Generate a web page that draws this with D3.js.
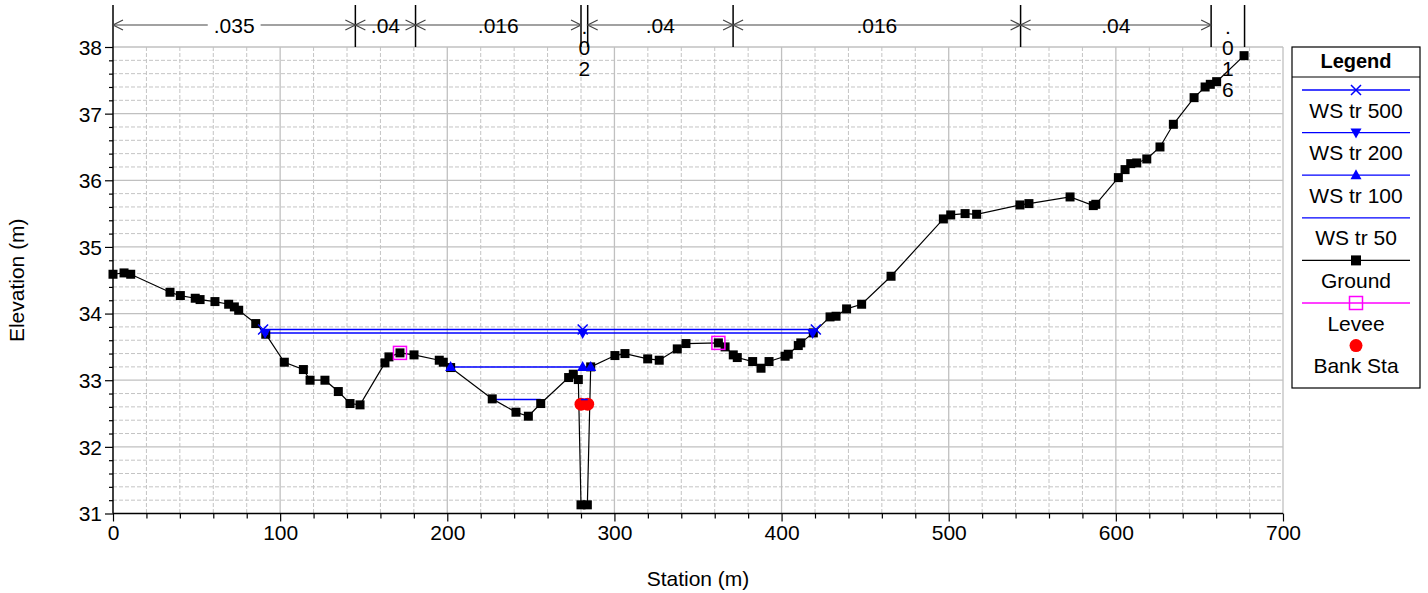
<!DOCTYPE html>
<html><head><meta charset="utf-8">
<script src="https://cdn.jsdelivr.net/npm/d3@7/dist/d3.min.js"></script>
<style>
html,body{margin:0;padding:0;background:#fff;}
svg{display:block;font-family:"Liberation Sans",Arial,sans-serif;}
</style></head><body>
<svg id="chart" width="1428" height="593"></svg>
<script>
// ---------- DATA ----------
const groundSta = [0,6.6,10.6,34.1,40.3,49.2,52.1,61.0,69.2,72.6,75.2,85.4,91.4,102.5,113.9,117.9,126.8,134.8,141.8,147.8,162.7,165.1,171.7,180.1,195.2,197.6,202.0,226.9,241.1,248.5,255.9,272.6,275.4,278.4,280.0,283.8,285.8,300.3,306.3,319.9,326.8,337.6,342.8,362.2,366.2,371.1,373.5,382.7,387.7,392.5,402.1,404.0,410.0,411.5,419.0,429.0,432.6,438.9,447.9,465.5,496.8,501.2,509.8,516.7,542.6,548.0,572.6,586.5,588.0,601.5,605.5,608.9,612.5,618.5,626.4,634.4,646.8,653.4,656.5,660.3,676.7];
const groundElev = [34.59,34.61,34.59,34.32,34.27,34.23,34.21,34.18,34.14,34.10,34.05,33.85,33.69,33.27,33.16,33.00,33.00,32.83,32.65,32.63,33.26,33.35,33.41,33.38,33.30,33.27,33.19,32.72,32.52,32.46,32.65,33.04,33.09,33.01,31.13,31.13,33.20,33.37,33.40,33.32,33.30,33.47,33.55,33.56,33.50,33.38,33.34,33.28,33.18,33.28,33.36,33.39,33.52,33.56,33.71,33.95,33.96,34.07,34.14,34.56,35.42,35.48,35.50,35.49,35.63,35.65,35.75,35.62,35.64,36.04,36.16,36.25,36.26,36.32,36.50,36.84,37.24,37.40,37.44,37.48,37.87];

const leveeSta = [171.7, 362.2];
const leveeElev = [33.41, 33.56];
const bankSta = [280, 284];
const bankElev = [32.64, 32.64];

// water surfaces: segments [start, end], elevation, marker stations
const ws500 = {name:"WS tr 500", elev:33.76, segs:[[89.8,420.5]], marks:[89.8,281,420.5], sym:"x"};
const ws200 = {name:"WS tr 200", elev:33.71, segs:[[91.0,418.6]], marks:[91.0,281,418.6], sym:"down"};
const ws100 = {name:"WS tr 100", elev:33.20, segs:[[202.0,285.8]], marks:[202.0,281,285.8], sym:"up"};
const ws50  = {name:"WS tr 50",  elev:32.71, segs:[[226.9,255.9],[280,284]], marks:[], sym:"none"};

// Manning's n regions
const nBreaks = [0,145,181,280,284,371,543,657,677];
const nValues = [".035",".04",".016",".02",".04",".016",".04",".016"];

const xTicks = [0,100,200,300,400,500,600,700];
const yTicks = [31,32,33,34,35,36,37,38];
const legendItems = ["WS tr 500","WS tr 200","WS tr 100","WS tr 50","Ground","Levee","Bank Sta"];

// ---------- LAYOUT ----------
const svg = d3.select("#chart");
const L = 113, R = 1283, T = 47, B = 513.5;
const x = d3.scaleLinear().domain([0,700]).range([L,R]);
const y = d3.scaleLinear().domain([31,38]).range([B,T]);
const BLUE = "#0000ff";
const FONT = 21;

// grid
const g = svg.append("g");
const minorX = d3.range(0,701,20).filter(v=>v%100!==0);
const minorY = d3.range(31,38.001,0.2).filter(v=>Math.abs(v-Math.round(v))>0.01);
g.selectAll(".mx").data(minorX).enter().append("line")
 .attr("x1",d=>x(d)).attr("x2",d=>x(d)).attr("y1",T).attr("y2",B)
 .attr("stroke","#c4c4c4").attr("stroke-dasharray","4,2").attr("stroke-width",1);
g.selectAll(".my").data(minorY).enter().append("line")
 .attr("y1",d=>y(d)).attr("y2",d=>y(d)).attr("x1",L).attr("x2",R)
 .attr("stroke","#c4c4c4").attr("stroke-dasharray","4,2").attr("stroke-width",1);
g.selectAll(".Mx").data(xTicks.slice(1)).enter().append("line")
 .attr("x1",d=>x(d)).attr("x2",d=>x(d)).attr("y1",T).attr("y2",B)
 .attr("stroke","#c0c0c0").attr("stroke-width",1.3);
g.selectAll(".My").data(yTicks.slice(1)).enter().append("line")
 .attr("y1",d=>y(d)).attr("y2",d=>y(d)).attr("x1",L).attr("x2",R)
 .attr("stroke","#c0c0c0").attr("stroke-width",1.3);

// axes
const xAxis = d3.axisBottom(x).tickValues(xTicks).tickSize(8).tickPadding(4).tickFormat(d3.format("d"));
const xAxisMinor = d3.axisBottom(x).tickValues(minorX).tickSize(5).tickFormat("");
const yAxis = d3.axisLeft(y).tickValues(yTicks).tickSize(8).tickPadding(3).tickFormat(d3.format("d"));
const yAxisMinor = d3.axisLeft(y).tickValues(minorY).tickSize(4).tickFormat("");
function styleAxis(sel){
  sel.selectAll("path").attr("stroke","#000").attr("stroke-width",1.5);
  sel.selectAll("line").attr("stroke","#000").attr("stroke-width",1.2);
  sel.selectAll("text").attr("font-size",FONT).attr("fill","#000").attr("font-family","Liberation Sans, Arial, sans-serif");
}
svg.append("g").attr("transform",`translate(0,${B})`).call(xAxisMinor).call(styleAxis).select("path").remove();
svg.append("g").attr("transform",`translate(${L},0)`).call(yAxisMinor).call(styleAxis).select("path").remove();
const gx = svg.append("g").attr("transform",`translate(0,${B})`).call(xAxis).call(styleAxis);
gx.select("path").attr("d",`M${L},0H${R}`);
const gy = svg.append("g").attr("transform",`translate(${L},0)`).call(yAxis).call(styleAxis);
gy.select("path").attr("d",`M0,${B}V${T-42}`);
gy.selectAll("text").attr("dy","0.35em");

// axis titles
svg.append("text").attr("x",(L+R)/2).attr("y",586).attr("text-anchor","middle")
 .attr("font-size",FONT).text("Station (m)");
svg.append("text").attr("transform",`translate(24,${(T+B)/2}) rotate(-90)`).attr("text-anchor","middle")
 .attr("font-size",FONT).text("Elevation (m)");

// Manning's n header
const hy = 25, vTop = 5;
const nh = svg.append("g");
nBreaks.forEach((s,i)=>{
  if(i===0) return;
  nh.append("line").attr("x1",x(s)).attr("x2",x(s)).attr("y1",vTop).attr("y2",T)
    .attr("stroke","#000").attr("stroke-width",1.5);
});
for(let i=0;i<nValues.length;i++){
  const a = x(nBreaks[i]), b = x(nBreaks[i+1]);
  const w = b-a;
  if(w>40){
    nh.append("line").attr("x1",a).attr("x2",b).attr("y1",hy).attr("y2",hy).attr("stroke","#444").attr("stroke-width",1.2);
    nh.append("path").attr("d",`M${a+10},${hy-5}L${a},${hy}L${a+10},${hy+5}`).attr("fill","none").attr("stroke","#444").attr("stroke-width",1.2);
    nh.append("path").attr("d",`M${b-10},${hy-5}L${b},${hy}L${b-10},${hy+5}`).attr("fill","none").attr("stroke","#444").attr("stroke-width",1.2);
    const t = nh.append("text").attr("x",(a+b)/2).attr("y",hy+7.5).attr("text-anchor","middle")
      .attr("font-size",FONT).text(nValues[i]);
    const bb = t.node().getBBox();
    nh.insert("rect","text").attr("x",bb.x-6).attr("y",hy-4).attr("width",bb.width+12).attr("height",8).attr("fill","#fff");
    t.raise();
  } else {
    nValues[i].split("").forEach((ch,k)=>{
      nh.append("text").attr("x",(a+b)/2).attr("y",34+k*21).attr("text-anchor","middle")
        .attr("font-size",FONT).text(ch);
    });
  }
}

// water surface lines
const plot = svg.append("g");
[ws500,ws200,ws100,ws50].forEach(ws=>{
  ws.segs.forEach(sg=>{
    plot.append("line").attr("x1",x(sg[0])).attr("x2",x(sg[1])).attr("y1",y(ws.elev)).attr("y2",y(ws.elev))
      .attr("stroke",BLUE).attr("stroke-width",1.5);
  });
});

// ground
const line = d3.line().x(d=>x(d[0])).y(d=>y(d[1]));
const gpts = groundSta.map((s,i)=>[s,groundElev[i]]);
plot.append("path").datum(gpts).attr("d",line).attr("fill","none").attr("stroke","#000").attr("stroke-width",1.2);
plot.selectAll(".gp").data(gpts).enter().append("rect")
  .attr("x",d=>x(d[0])-4.5).attr("y",d=>y(d[1])-4.5).attr("width",9).attr("height",9).attr("fill","#000");

// symbols
function drawSym(sel, sym, cx, cy){
  if(sym==="x"){
    sel.append("path").attr("d",`M${cx-5},${cy-5}L${cx+5},${cy+5}M${cx-5},${cy+5}L${cx+5},${cy-5}`)
      .attr("stroke",BLUE).attr("stroke-width",1.5).attr("fill","none");
  } else if(sym==="down"){
    sel.append("path").attr("d",`M${cx-5.5},${cy-4}L${cx+5.5},${cy-4}L${cx},${cy+6}Z`).attr("fill",BLUE);
  } else if(sym==="up"){
    sel.append("path").attr("d",`M${cx-5.5},${cy+4}L${cx+5.5},${cy+4}L${cx},${cy-6}Z`).attr("fill",BLUE);
  } else if(sym==="square"){
    sel.append("rect").attr("x",cx-5).attr("y",cy-5).attr("width",10).attr("height",10).attr("fill","#000");
  } else if(sym==="levee"){
    sel.append("rect").attr("x",cx-6.5).attr("y",cy-6.5).attr("width",13).attr("height",13).attr("fill","none").attr("stroke","#ff00ff").attr("stroke-width",1.5);
  } else if(sym==="bank"){
    sel.append("circle").attr("cx",cx).attr("cy",cy).attr("r",6.5).attr("fill","#ff0000");
  }
}
[ws500,ws200,ws100].forEach(ws=>{
  ws.marks.forEach(s=>drawSym(plot, ws.sym, x(s), y(ws.elev)));
});
leveeSta.forEach((s,i)=>drawSym(plot,"levee",x(s),y(leveeElev[i])));
bankSta.forEach((s,i)=>drawSym(plot,"bank",x(s),y(bankElev[i])));
// ws50 in channel drawn over bank markers
plot.append("line").attr("x1",x(ws50.segs[1][0])).attr("x2",x(ws50.segs[1][1])).attr("y1",y(ws50.elev)).attr("y2",y(ws50.elev))
  .attr("stroke",BLUE).attr("stroke-width",1.5);

// legend
const lg = svg.append("g");
const LX0 = 1292, LX1 = 1420, LY0 = 47, LY1 = 388;
lg.append("rect").attr("x",LX0).attr("y",LY0).attr("width",LX1-LX0).attr("height",LY1-LY0)
  .attr("fill","#fff").attr("stroke","#000").attr("stroke-width",1.2);
lg.append("line").attr("x1",LX0).attr("x2",LX1).attr("y1",77).attr("y2",77).attr("stroke","#000").attr("stroke-width",1.2);
lg.append("text").attr("x",(LX0+LX1)/2).attr("y",67.5).attr("text-anchor","middle").attr("font-size",FONT-1)
  .attr("font-weight","bold").text("Legend");
const legSyms = ["x","down","up","none","square","levee","bank"];
const legColors = [BLUE,BLUE,BLUE,BLUE,"#000","#ff00ff",null];
legendItems.forEach((name,i)=>{
  const ly = 90 + i*42.6;
  const cx = (LX0+LX1)/2;
  if(legColors[i]) lg.append("line").attr("x1",1302).attr("x2",1410).attr("y1",ly).attr("y2",ly)
    .attr("stroke",legColors[i]).attr("stroke-width",1.3);
  drawSym(lg, legSyms[i], cx, ly);
  lg.append("text").attr("x",cx).attr("y",ly+27.5).attr("text-anchor","middle").attr("font-size",FONT).text(name);
});
</script>
</body></html>
